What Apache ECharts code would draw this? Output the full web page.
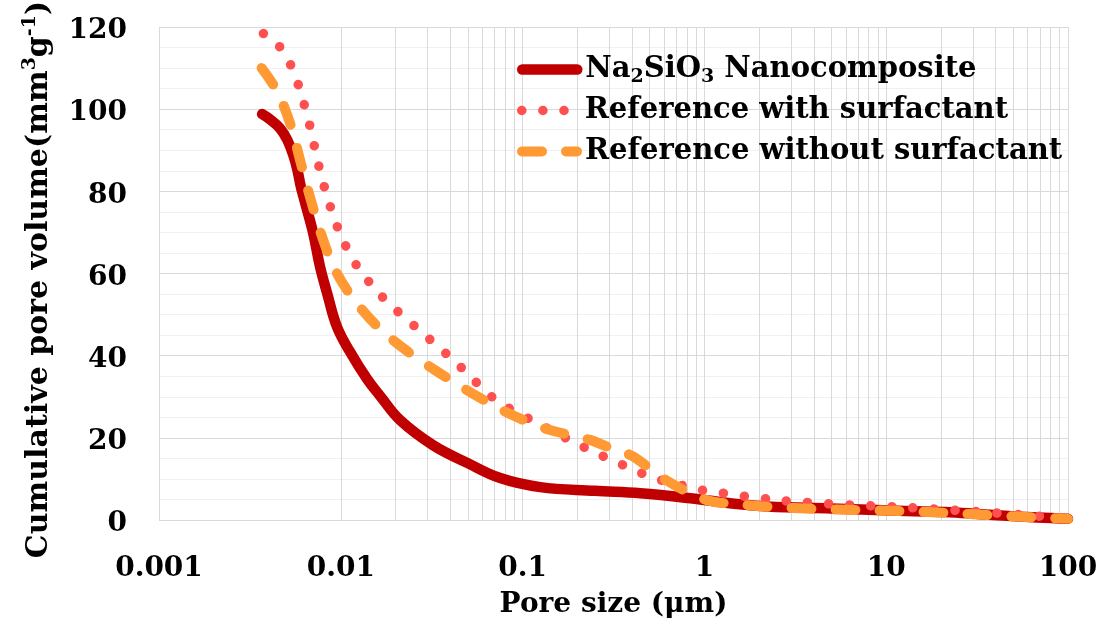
<!DOCTYPE html>
<html>
<head>
<meta charset="utf-8">
<script src="https://cdn.jsdelivr.net/npm/echarts@6/dist/echarts.min.js"></script>
<style>
  html, body { margin: 0; padding: 0; background: #fff; }
  #chart { width: 1102px; height: 621px; }
</style>
</head>
<body>
<div id="chart"></div>
<script>
// Axis ticks
const xTickLabels = ['0.001', '0.01', '0.1', '1', '10', '100'];
const yTickValues = [0, 20, 40, 60, 80, 100, 120];
const minorMantissas = [2, 3, 4, 5, 6, 7, 8, 9];

const seriesNames = ['Na2SiO3 Nanocomposite', 'Reference with surfactant', 'Reference without surfactant'];

// Na2SiO3 nanocomposite: pore size (µm) vs cumulative pore volume (mm3/g)
const naPoreSize = [0.00369, 0.00408, 0.00463, 0.00508, 0.00548, 0.00577, 0.00603, 0.0063, 0.00704, 0.00769, 0.00841, 0.00953, 0.01125, 0.01395, 0.01646, 0.0212, 0.0322, 0.0496, 0.0753, 0.125, 0.25, 0.444, 0.836, 1.51, 2.22, 5, 12.8, 22.5, 38.9, 68, 100];
const naVolume   = [98.8, 97.5, 95.3, 92.5, 88.8, 85.2, 81.1, 77.9, 69.9, 61.6, 55.2, 47.0, 40.9, 34.3, 30.2, 24.3, 18.2, 13.9, 10.2, 8.0, 7.1, 6.5, 5.3, 3.9, 3.3, 2.8, 2.2, 1.9, 1.2, 0.6, 0.3];

// Reference with surfactant
const wsPoreSize = [0.00375, 0.00444, 0.00505, 0.00553, 0.00597, 0.00678, 0.00753, 0.00855, 0.01, 0.0124, 0.0166, 0.0197, 0.0287, 0.0426, 0.061, 0.0743, 0.118, 0.195, 0.248, 0.316, 0.407, 0.518, 0.69, 0.9, 1.2, 1.58, 2.73, 3.64, 6.35, 11.1, 30, 100];
const wsVolume   = [118.4, 116, 112.7, 108.7, 104.6, 95.7, 86.6, 77.7, 69.3, 61.5, 54.7, 51.5, 45.2, 38.5, 31.8, 28.6, 23.8, 18.8, 16.5, 14.4, 12.3, 10.3, 8.9, 7.5, 6.7, 5.9, 4.7, 4.3, 3.65, 3.2, 2.1, 0.4];

// Reference without surfactant
const woPoreSize = [0.00367, 0.00449, 0.00531, 0.0060, 0.00678, 0.00777, 0.00918, 0.0115, 0.0155, 0.0224, 0.0337, 0.053, 0.0836, 0.139, 0.235, 0.30, 0.40, 0.62, 1.02, 1.75, 3.1, 5.4, 9.5, 16.8, 29, 51, 100];
const woVolume   = [110, 104.2, 96, 87.2, 78.5, 69.8, 61.4, 54.3, 47.6, 41.6, 36.2, 30.8, 26, 22, 19.5, 17.6, 15.6, 9.6, 4.9, 3.6, 2.9, 2.55, 2.3, 1.95, 1.45, 0.85, 0.3];

const FONT = 'DejaVu Serif';
const GRID_COLOR = '#d9d9d9';
const MINOR_GRID_COLOR = '#f0f0f0';

const pairs = (xs, ys) => xs.map((x, i) => [x, ys[i]]);

// Minor vertical grid values (2..9 within every decade)
const minorXValues = [];
xTickLabels.slice(0, -1).forEach(lbl => {
  const base = parseFloat(lbl);
  minorMantissas.forEach(m => minorXValues.push(+(base * m).toPrecision(6)));
});

const styles = [
  { color: '#C00000', width: 10.5, type: 'solid', smooth: 0.4 },
  { color: '#FF5050', width: 9.5, type: [0.1, 21], smooth: 0.3 },
  { color: '#FF9933', width: 10, type: [20, 24], smooth: 0.3 }
];
const dataSets = [
  pairs(naPoreSize, naVolume),
  pairs(wsPoreSize, wsVolume),
  pairs(woPoreSize, woVolume)
];

const chart = echarts.init(document.getElementById('chart'), null, { renderer: 'canvas' });

const series = [{
  name: 'minor-grid',
  type: 'line',
  data: [],
  z: 1,
  silent: true,
  markLine: {
    silent: true,
    z: 1,
    symbol: ['none', 'none'],
    label: { show: false },
    emphasis: { disabled: true },
    animation: false,
    lineStyle: { color: GRID_COLOR, width: 1, type: 'solid' },
    data: minorXValues.map(v => ({ xAxis: v }))
  }
}];

seriesNames.forEach((name, i) => {
  series.push({
    name: name,
    type: 'line',
    data: dataSets[i],
    symbol: 'none',
    showSymbol: false,
    smooth: styles[i].smooth,
    z: 2 + i,
    itemStyle: { color: styles[i].color },
    lineStyle: {
      color: styles[i].color,
      width: styles[i].width,
      type: styles[i].type,
      cap: 'round',
      join: 'round'
    }
  });
});

// One legend block per row, stacked 41px apart
const legendTops = [55, 96, 137];
const legends = seriesNames.map((name, i) => ({
  orient: 'vertical',
  left: 517,
  top: legendTops[i],
  padding: 0,
  itemWidth: 55,
  itemHeight: 34,
  selectedMode: false,
  data: [{
    name: name,
    itemStyle: { opacity: 0 },
    lineStyle: {
      color: styles[i].color,
      width: styles[i].width,
      type: styles[i].type,
      cap: 'round',
      opacity: 1
    }
  }],
  formatter: n => n === seriesNames[0]
    ? '{t|Na}{s|2}{t|SiO}{s|3}{t| Nanocomposite}'
    : '{t|' + n + '}',
  textStyle: {
    padding: [0, 0, 0, 3],
    rich: {
      t: { fontFamily: FONT, fontWeight: 'bold', fontSize: 29, lineHeight: 34, color: '#000' },
      s: { fontFamily: FONT, fontWeight: 'bold', fontSize: 19, lineHeight: 16, verticalAlign: 'bottom', color: '#000' }
    }
  }
}));

const option = {
  animation: false,
  backgroundColor: '#fff',
  grid: { left: 159, right: 34, top: 27, bottom: 101, containLabel: false, outerBoundsMode: 'none' },
  legend: legends,
  xAxis: {
    type: 'log',
    logBase: 10,
    min: 0.001,
    max: 100,
    name: 'Pore size (μm)',
    nameLocation: 'middle',
    nameGap: 71,
    nameTextStyle: { fontFamily: FONT, fontWeight: 'bold', fontSize: 28, color: '#000' },
    axisLine: { show: false },
    axisTick: { show: false },
    axisLabel: {
      margin: 35,
      fontFamily: FONT,
      fontWeight: 'bold',
      fontSize: 28,
      color: '#000',
      formatter: v => xTickLabels[Math.round(Math.log10(v)) + 3]
    },
    splitLine: { show: true, lineStyle: { color: GRID_COLOR, width: 1 } }
  },
  yAxis: {
    type: 'value',
    min: yTickValues[0],
    max: yTickValues[yTickValues.length - 1],
    interval: 20,
    name: 'Cumulative pore volume(mm{sup|3}g{sup|-1})',
    nameLocation: 'middle',
    nameRotate: 90,
    nameGap: 102,
    nameTextStyle: {
      fontFamily: FONT, fontWeight: 'bold', fontSize: 30, lineHeight: 36, color: '#000',
      padding: [0, 12, 0, 0],
      rich: {
        sup: { fontFamily: FONT, fontWeight: 'bold', fontSize: 19, lineHeight: 16, verticalAlign: 'top', color: '#000' }
      }
    },
    axisLine: { show: false },
    axisTick: { show: false },
    axisLabel: {
      margin: 32,
      formatter: v => '{v|' + v + '}',
      rich: {
        v: { fontFamily: FONT, fontWeight: 'bold', fontSize: 28, lineHeight: 30, padding: [8, 0, 0, 0], color: '#000' }
      }
    },
    splitLine: { show: true, lineStyle: { color: GRID_COLOR, width: 1 } },
    minorTick: { show: false, splitNumber: 4 },
    minorSplitLine: { show: true, lineStyle: { color: MINOR_GRID_COLOR, width: 1 } }
  },
  series: series
};

chart.setOption(option);
</script>
</body>
</html>
